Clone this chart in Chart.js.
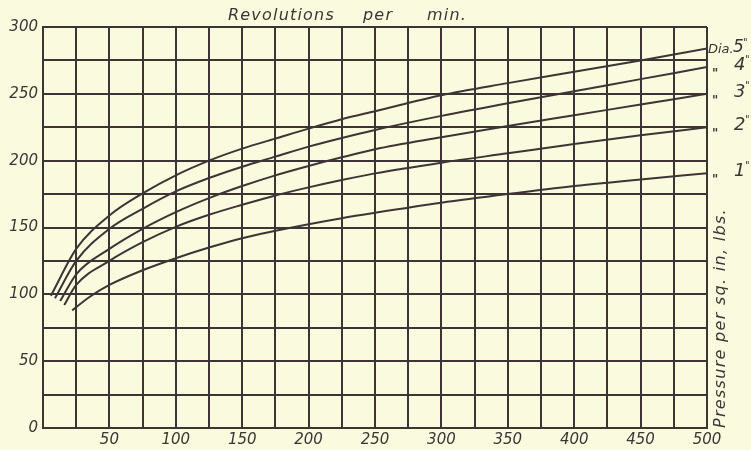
<!DOCTYPE html>
<html>
<head>
<meta charset="utf-8">
<script src="https://cdn.jsdelivr.net/npm/chart.js@4.4.1/dist/chart.umd.min.js"></script>
<style>
  html, body { margin: 0; padding: 0; background: #fafadf; }
</style>
</head>
<body>
<canvas id="chart" width="751" height="450"></canvas>
<script>
// cylinder diameters, one curve each
const diameters = ['1', '2', '3', '4', '5'];

// revolutions per minute / pressure (lbs per sq. in) along each curve
const rpm1 = [22, 35, 50, 75, 100, 125, 150, 175, 200, 225, 250, 300, 350, 400, 450, 500];
const pressure1 = [88, 98, 107, 118, 127, 135, 142, 147.5, 152.5, 157, 161, 168.5, 175, 181, 186, 190.5];

const rpm2 = [16, 25, 50, 75, 100, 125, 150, 175, 200, 225, 250, 300, 350, 400, 450, 500];
const pressure2 = [92, 107, 125, 139, 150.5, 159.5, 167, 174, 180, 185.5, 190.5, 198.5, 205.5, 212.5, 219, 225];

const rpm3 = [13, 25, 50, 75, 100, 125, 150, 175, 200, 225, 250, 300, 350, 400, 450, 500];
const pressure3 = [95, 115, 134, 149, 161.5, 172, 181, 189, 196, 202.5, 208.5, 217.5, 226, 234, 242, 250];

const rpm4 = [9, 25, 50, 75, 100, 125, 150, 175, 200, 225, 250, 300, 350, 400, 450, 500];
const pressure4 = [97, 125, 149, 164, 177, 187, 195.5, 203, 210.5, 217, 223, 233.5, 243, 252, 261, 270];

const rpm5 = [6, 25, 50, 75, 100, 125, 150, 175, 200, 225, 250, 300, 350, 400, 450, 500];
const pressure5 = [99, 134, 159, 175.5, 189, 200, 209, 216.5, 224, 231, 237, 249, 258, 266.5, 275, 284];

const xTicks = [50, 100, 150, 200, 250, 300, 350, 400, 450, 500];
const yTicks = [0, 50, 100, 150, 200, 250, 300];

const ink = '#3d3535';
const paper = '#fafadf';
const face = '"DejaVu Sans", sans-serif';

function toPoints(xs, ys) {
  return xs.map((x, i) => ({ x: x, y: ys[i] }));
}

const curves = [
  toPoints(rpm1, pressure1),
  toPoints(rpm2, pressure2),
  toPoints(rpm3, pressure3),
  toPoints(rpm4, pressure4),
  toPoints(rpm5, pressure5),
];

const datasets = curves.map((pts, i) => ({
  label: diameters[i],
  data: pts,
  borderColor: ink,
  borderWidth: 2,
  pointRadius: 0,
  fill: false,
  cubicInterpolationMode: 'monotone',
}));

// cream paper under everything
const paperPlugin = {
  id: 'paper',
  beforeDraw(chart) {
    const ctx = chart.ctx;
    ctx.save();
    ctx.fillStyle = paper;
    ctx.fillRect(0, 0, chart.width, chart.height);
    ctx.restore();
  }
};

// title, side caption and the diameter marks at the curve ends
const lettering = {
  id: 'lettering',
  afterDraw(chart) {
    const ctx = chart.ctx;
    const area = chart.chartArea;
    const yScale = chart.scales.y;
    ctx.save();
    ctx.fillStyle = ink;

    ctx.font = 'italic 16px ' + face;
    ctx.textBaseline = 'alphabetic';
    ctx.textAlign = 'left';
    ctx.letterSpacing = '1.2px';
    ctx.fillText('Revolutions', 228, 20);
    ctx.fillText('per', 363, 20);
    ctx.fillText('min.', 427, 20);

    ctx.save();
    ctx.translate(area.right + 14, area.bottom);
    ctx.rotate(-Math.PI / 2);
    ctx.textBaseline = 'middle';
    ctx.font = 'italic 16px ' + face;
    ctx.letterSpacing = '1.3px';
    ctx.fillText('Pressure per sq. in, lbs.', 0, 0);
    ctx.restore();

    ctx.letterSpacing = '0px';
    ctx.textBaseline = 'middle';
    chart.data.datasets.forEach((ds, i) => {
      const last = ds.data[ds.data.length - 1];
      const y = yScale.getPixelForValue(last.y);
      if (i === diameters.length - 1) {
        ctx.font = 'italic 13px ' + face;
        ctx.fillText('Dia.', area.right + 1, y + 1);
        ctx.font = 'italic 17px ' + face;
        ctx.fillText(ds.label, area.right + 26, y - 1);
        ctx.font = 'italic 10px ' + face;
        ctx.fillText('"', area.right + 36, y - 5);
      } else {
        ctx.font = 'bold 12px ' + face;
        ctx.fillText('"', area.right + 5, y + 7);
        ctx.font = 'italic 18px ' + face;
        ctx.fillText(ds.label, area.right + 27, y - 2);
        ctx.font = 'italic 10px ' + face;
        ctx.fillText('"', area.right + 38, y - 7);
      }
    });
    ctx.restore();
  }
};

new Chart('chart', {
  type: 'line',
  data: { datasets: datasets },
  options: {
    responsive: false,
    animation: false,
    layout: { padding: { top: 27, right: 44, left: 0, bottom: 0 } },
    plugins: {
      legend: { display: false },
      tooltip: { enabled: false },
    },
    scales: {
      x: {
        type: 'linear',
        min: 0,
        max: 500,
        afterFit(scale) { scale.height = 22; },
        ticks: {
          stepSize: 25,
          autoSkip: false,
          maxRotation: 0,
          padding: 3,
          color: ink,
          font: { family: face, style: 'italic', size: 15 },
          callback: v => xTicks.includes(v) ? v : '',
        },
        grid: { color: ink, lineWidth: 2, drawTicks: false },
        border: { color: ink, width: 2 },
      },
      y: {
        min: 0,
        max: 300,
        afterFit(scale) { scale.width = 43; },
        ticks: {
          stepSize: 25,
          autoSkip: false,
          padding: 5,
          color: ink,
          font: { family: face, style: 'italic', size: 15 },
          callback: v => yTicks.includes(v) ? v : '',
        },
        grid: { color: ink, lineWidth: 2, drawTicks: false },
        border: { color: ink, width: 2 },
      },
    },
  },
  plugins: [paperPlugin, lettering],
});
</script>
</body>
</html>
